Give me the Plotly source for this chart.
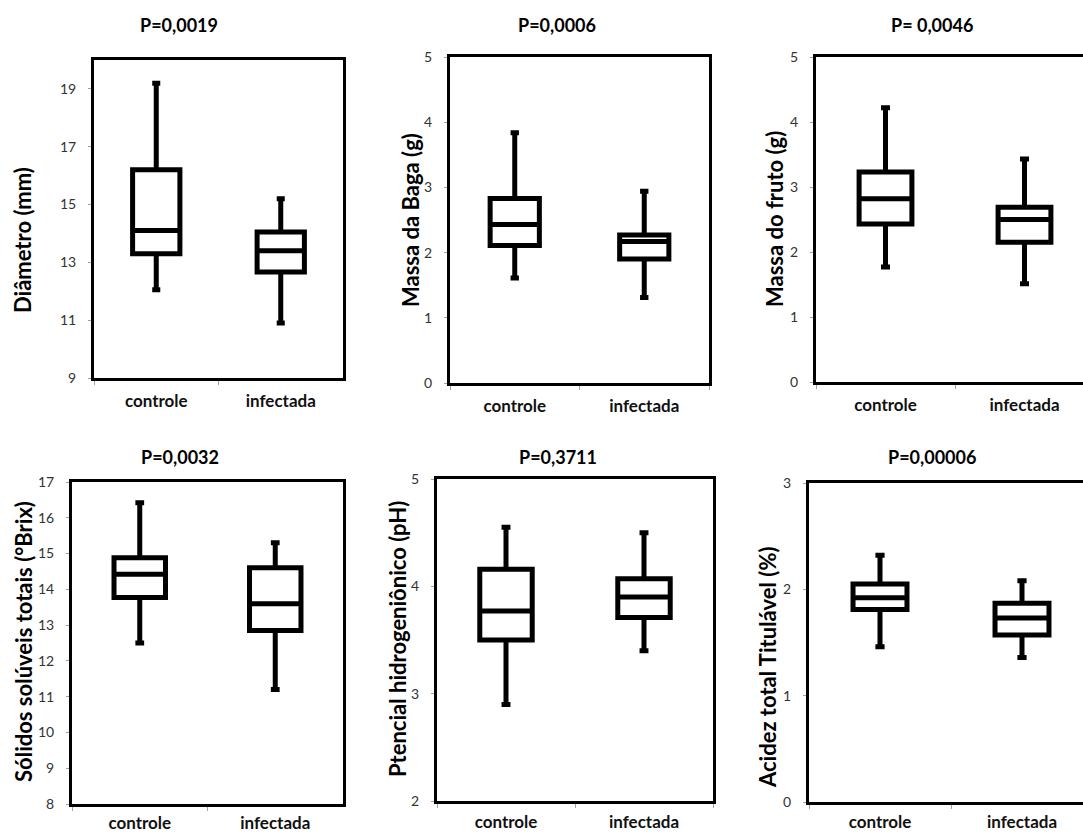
import plotly.graph_objects as go

W, H = 1083, 834

categories = ["controle", "infectada"]

p_titles = ["P=0,0019", "P=0,0006", "P= 0,0046", "P=0,0032", "P=0,3711", "P=0,00006"]
y_titles = ["Diâmetro (mm)", "Massa da Baga (g)", "Massa do fruto (g)",
            "Sólidos solúveis totais (°Brix)", "Ptencial hidrogeniônico (pH)",
            "Acidez total Titulável (%)"]

# five-number summaries per panel: [controle, infectada]
diam_low = [12.05, 10.9]
diam_q1 = [13.3, 12.67]
diam_med = [14.1, 13.4]
diam_q3 = [16.2, 14.05]
diam_high = [19.2, 15.2]

baga_low = [1.61, 1.31]
baga_q1 = [2.11, 1.9]
baga_med = [2.43, 2.17]
baga_q3 = [2.83, 2.27]
baga_high = [3.84, 2.94]

fruto_low = [1.77, 1.51]
fruto_q1 = [2.43, 2.15]
fruto_med = [2.82, 2.5]
fruto_q3 = [3.23, 2.69]
fruto_high = [4.22, 3.43]

brix_low = [12.5, 11.2]
brix_q1 = [13.77, 12.85]
brix_med = [14.42, 13.6]
brix_q3 = [14.88, 14.6]
brix_high = [16.42, 15.3]

ph_low = [2.9, 3.4]
ph_q1 = [3.5, 3.71]
ph_med = [3.77, 3.9]
ph_q3 = [4.16, 4.07]
ph_high = [4.55, 4.5]

acid_low = [1.46, 1.36]
acid_q1 = [1.81, 1.57]
acid_med = [1.92, 1.73]
acid_q3 = [2.05, 1.87]
acid_high = [2.32, 2.08]

y_ranges = [[9, 20], [0, 5], [0, 5], [8, 17], [2, 5], [0, 3]]
y_tick0 = [9, 0, 0, 8, 2, 0]
y_dtick = [2, 1, 1, 1, 1, 1]

summaries = [
    (diam_low, diam_q1, diam_med, diam_q3, diam_high),
    (baga_low, baga_q1, baga_med, baga_q3, baga_high),
    (fruto_low, fruto_q1, fruto_med, fruto_q3, fruto_high),
    (brix_low, brix_q1, brix_med, brix_q3, brix_high),
    (ph_low, ph_q1, ph_med, ph_q3, ph_high),
    (acid_low, acid_q1, acid_med, acid_q3, acid_high),
]

# layout geometry in pixels: (left, right, top, bottom)
boxes_px = [(94, 343, 60, 378), (450, 709, 57, 383), (816, 1083, 57, 382),
            (72, 343, 482, 804), (437, 713, 479, 801), (809, 1083, 483, 802)]
cat_px = [124.5, 129.5, 139, 135.5, 138, 142]
x_label_standoff = [6, 6, 6, 2, 4, 3]
title_pos = [(179, 25), (557, 25), (932, 25), (180, 457), (558, 457), (932, 457)]
ytitle_pos = [(22, 240), (410, 220), (775, 219), (23, 642), (397, 639), (767, 668)]

FONT = "Lato"
fig = go.Figure()
annotations = []

for i in range(6):
    low, q1, med, q3, high = summaries[i]
    xa = "x" if i == 0 else f"x{i+1}"
    ya = "y" if i == 0 else f"y{i+1}"
    fig.add_trace(go.Box(
        x=categories, lowerfence=low, q1=q1, median=med, q3=q3, upperfence=high,
        xaxis=xa, yaxis=ya, width=0.38, whiskerwidth=0.17,
        line=dict(color="black", width=5), fillcolor="white",
        showlegend=False, boxpoints=False, hoverinfo="skip",
    ))
    l, r, t, b = boxes_px[i]
    clipped = (r >= W)
    xr_hi = -0.5 + (r - l) / cat_px[i]
    xkey = "xaxis" if i == 0 else f"xaxis{i+1}"
    ykey = "yaxis" if i == 0 else f"yaxis{i+1}"
    fig.layout[xkey] = dict(
        domain=[l / W, min(r / W, 1.0)], anchor=ya, type="category",
        categoryorder="array", categoryarray=categories,
        range=[-0.5, xr_hi], automargin=False,
        showline=True, linecolor="black", linewidth=3, mirror=True,
        ticks="outside", tickson="boundaries", ticklen=4, tickcolor="#a0a0a0",
        tickfont=dict(family=FONT, size=17, color="#111111", weight="bold"),
        ticklabelstandoff=x_label_standoff[i], showgrid=False, zeroline=False,
        fixedrange=True,
    )
    fig.layout[ykey] = dict(
        domain=[1 - b / H, 1 - t / H], anchor=xa, range=y_ranges[i],
        tick0=y_tick0[i], dtick=y_dtick[i], automargin=False,
        showline=True, linecolor="black", linewidth=3, mirror=not clipped,
        ticks="outside", ticklen=3, tickcolor="#a0a0a0",
        tickfont=dict(family=FONT, size=14, color="#333333"),
        ticklabelstandoff=9,
        showgrid=False, zeroline=False, fixedrange=True,
    )
    tx, ty = title_pos[i]
    annotations.append(dict(
        text=p_titles[i], x=tx / W, y=1 - ty / H, xref="paper", yref="paper",
        showarrow=False, xanchor="center", yanchor="middle",
        font=dict(family=FONT, size=18, color="black", weight="bold")))
    yx, yy = ytitle_pos[i]
    annotations.append(dict(
        text=y_titles[i], x=yx / W, y=1 - yy / H, xref="paper", yref="paper",
        showarrow=False, xanchor="center", yanchor="middle", textangle=-90,
        font=dict(family=FONT, size=22, color="black", weight="bold")))

fig.update_layout(
    width=W, height=H, margin=dict(l=0, r=0, t=0, b=0, autoexpand=False),
    paper_bgcolor="white", plot_bgcolor="white",
    annotations=annotations, showlegend=False,
)

fig.write_html("out.html", config={"displayModeBar": False},
               post_script="document.body.style.margin='0';document.body.style.overflow='hidden';")
